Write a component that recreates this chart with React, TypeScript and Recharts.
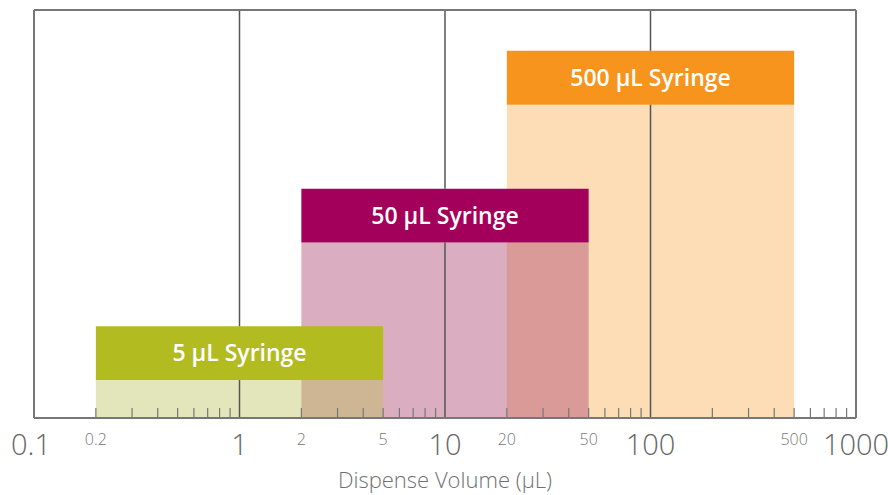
import React from "react";
import {
  ComposedChart, XAxis, YAxis, ReferenceArea, ReferenceLine, Scatter,
} from "recharts";

// syringes, drawn back to front
const syringeNames = ["500 µL Syringe", "50 µL Syringe", "5 µL Syringe"];
const rangeMin = [20, 2, 0.2];
const rangeMax = [500, 50, 5];
const bandTop = [90, 56.2, 22.5];
const bandBottom = [76.8, 43, 9.3];
const headerColors = ["#f7941d", "#a2005b", "#b2bc21"];
const fillColors = ["#f7941d", "#b04a74", "#bcc35a"];
const fillOpacity = [0.32, 0.45, 0.42];

// axis
const majorTicks = [0.1, 1, 10, 100, 1000];
const minorLabels = [0.2, 2, 5, 20, 50, 500];
const gridLines = [1, 10, 100];
const minorTicks = [
  0.2, 0.3, 0.4, 0.5, 0.6, 0.7, 0.8, 0.9,
  2, 3, 4, 5, 6, 7, 8, 9,
  20, 30, 40, 50, 60, 70, 80, 90,
  200, 300, 400, 500, 600, 700, 800, 900,
];
const allTicks = [...majorTicks, ...minorTicks].sort((a, b) => a - b);

const points = syringeNames.map((n, i) => ({ x: rangeMin[i], y: bandTop[i] }));

// grid line pieces, interrupted where an opaque header band sits on top
const gridSegments = gridLines.flatMap(g => {
  const cuts = syringeNames
    .map((_, i) => i)
    .filter(i => rangeMin[i] < g && rangeMax[i] > g)
    .map(i => [bandBottom[i], bandTop[i]])
    .sort((a, b) => a[0] - b[0]);
  const segs: { x: number; y1: number; y2: number }[] = [];
  let start = 0;
  cuts.forEach(([lo, hi]) => {
    segs.push({ x: g, y1: start, y2: lo });
    start = hi;
  });
  segs.push({ x: g, y1: start, y2: 100 });
  return segs;
});

const AxisTick = (props: any) => {
  const { x, y, payload } = props;
  const v = payload.value;
  const isMajor = majorTicks.includes(v);
  return (
    <g>
      {!isMajor && <line x1={x} x2={x} y1={y - 10} y2={y} stroke="#777" strokeWidth={1.2} />}
      {isMajor && (
        <text x={x - (v === 0.1 ? 3 : 0)} y={y + 37} textAnchor="middle" fontSize={29} fill="#666" fontWeight={300}>
          {String(v)}
        </text>
      )}
      {minorLabels.includes(v) && (
        <text x={x} y={y + 27} textAnchor="middle" fontSize={16} fill="#777" fontWeight={300}>
          {String(v)}
        </text>
      )}
    </g>
  );
};

export default function App() {
  return (
    <div style={{ position: "absolute", left: 0, top: 0, fontFamily: "'Open Sans', sans-serif" }}>
      <ComposedChart
        width={888}
        height={495}
        data={points}
        margin={{ top: 10, right: 32, bottom: 4, left: 34 }}
      >
        <XAxis
          type="number"
          dataKey="x"
          scale="log"
          domain={[0.1, 1000]}
          allowDataOverflow
          ticks={allTicks}
          interval={0}
          tick={<AxisTick />}
          tickLine={false}
          tickSize={0}
          tickMargin={0}
          height={73}
          axisLine={{ stroke: "#777", strokeWidth: 2 }}
          label={{ value: "Dispense Volume (µL)", position: "insideBottom", offset: 3, fill: "#707070", fontSize: 22, fontWeight: 300 }}
        />
        <YAxis type="number" dataKey="y" domain={[0, 100]} hide />
        {syringeNames.map((n, i) => (
          <ReferenceArea
            key={"f" + n}
            x1={rangeMin[i]} x2={rangeMax[i]} y1={0} y2={bandBottom[i]}
            fill={fillColors[i]} fillOpacity={fillOpacity[i]} stroke="none"
          />
        ))}
        {syringeNames.map((n, i) => (
          <ReferenceArea
            key={"h" + n}
            x1={rangeMin[i]} x2={rangeMax[i]} y1={bandBottom[i]} y2={bandTop[i]}
            fill={headerColors[i]} fillOpacity={1} stroke="none"
            label={{ value: n, position: "center", fill: "#fff", fontSize: 23, fontWeight: 600 }}
          />
        ))}
        {gridSegments.map((s, k) => (
          <ReferenceLine
            key={"g" + k}
            segment={[{ x: s.x, y: s.y1 }, { x: s.x, y: s.y2 }]}
            stroke="#555"
            strokeWidth={1.5}
          />
        ))}
        <ReferenceLine x={0.1} stroke="#777" strokeWidth={2} />
        <ReferenceLine x={1000} stroke="#777" strokeWidth={2} />
        <ReferenceLine y={100} stroke="#777" strokeWidth={2} />
        <Scatter dataKey="y" fill="none" isAnimationActive={false} />
      </ComposedChart>
    </div>
  );
}
